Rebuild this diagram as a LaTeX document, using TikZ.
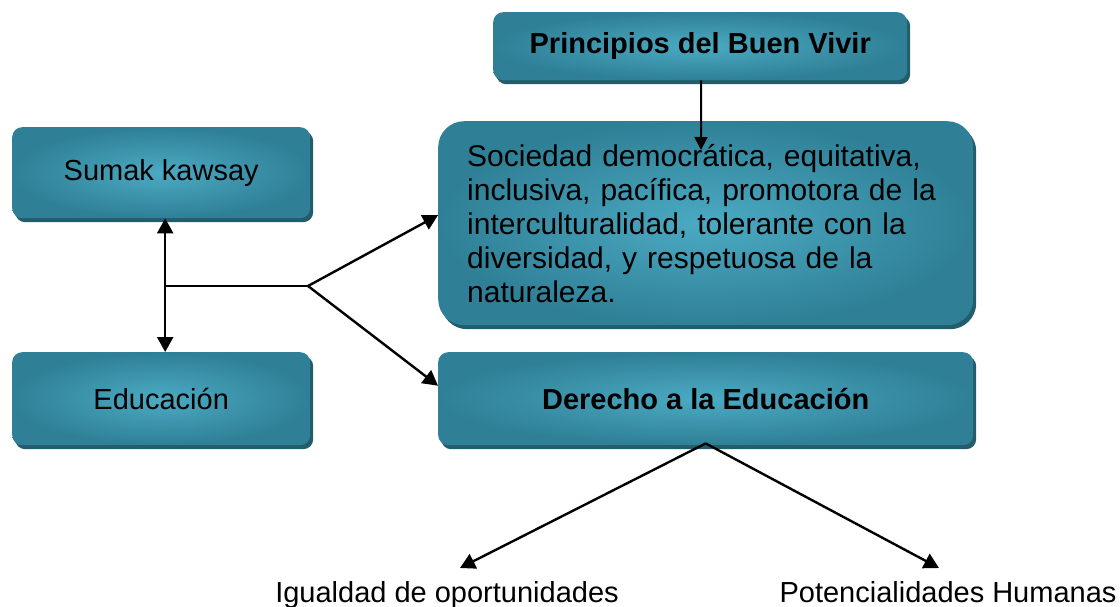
\documentclass[tikz,border=0pt]{standalone}
\usepackage{fontspec}
\setmainfont{Liberation Sans}
\usetikzlibrary{shadows,arrows.meta,calc}
\definecolor{boxin}{HTML}{4BAAC3}
\definecolor{boxout}{HTML}{2F8096}
\definecolor{boxshadow}{HTML}{235C6B}
\tikzset{
  tealbox/.style={shading=radial, inner color=boxin, outer color=boxout,
    rounded corners=10pt, anchor=north west, inner sep=0pt,
    drop shadow={shadow xshift=3pt, shadow yshift=-4pt, opacity=1, fill=boxshadow},
    font=\fontsize{29}{33}\selectfont, text=black},
  conn/.style={line width=2.4pt, draw=black},
  tip/.style={-{Triangle[length=15pt,width=16pt]}},
  lbl/.style={font=\fontsize{29}{33}\selectfont, anchor=base}
}
\begin{document}
\begin{tikzpicture}[x=1pt,y=-1pt]
\useasboundingbox (0,0) rectangle (1120,607);
\node[tealbox, minimum width=414pt, minimum height=68pt] (prin) at (493,12) {\bfseries Principios del Buen Vivir};
\node[tealbox, minimum width=298pt, minimum height=91pt] (sumak) at (12,127) {Sumak kawsay};
\node[tealbox, minimum width=298pt, minimum height=93pt] (edu) at (12,352) {Educación};
\node[tealbox, rounded corners=26pt, text width=477pt, inner xsep=29pt, minimum height=204pt, align=left,
      font=\fontsize{30}{34}\selectfont] (soc) at (438,121)
  {Sociedad democrática, equitativa,\\inclusiva, pacífica, promotora de la\\interculturalidad, tolerante con la\\diversidad, y respetuosa de la\\naturaleza.};
\node[tealbox, minimum width=535pt, minimum height=93pt] (der) at (438,352) {\bfseries Derecho a la Educación};

\node[lbl] (igu) at (447,602) {Igualdad de oportunidades};
\node[lbl] (pot) at (948,602) {Potencialidades Humanas};

\coordinate (pend) at (701,150);
\coordinate (j1) at (165,286);
\coordinate (j2) at (308,286);
\coordinate (t1) at (460,568);
\coordinate (t2) at (939,568);

\draw[line width=2pt, -{Triangle[length=13pt,width=13pt]}] ($(prin.south)+(1,0)$) -- (pend);
\draw[conn, {Triangle[length=15pt,width=16pt]}-{Triangle[length=15pt,width=16pt]}] ($(sumak.south)+(4,0)$) -- ($(edu.north)+(4,0)$);
\draw[line width=2pt] (j1) -- (j2);
\draw[conn, tip] (j2) -- ($(soc.west)+(0,-8)$);
\draw[conn, tip] (j2) -- ($(der.west)+(0,-13)$);
\draw[conn, tip] ($(der.south)+(0,-2)$) -- (t1);
\draw[conn, tip] ($(der.south)+(0,-2)$) -- (t2);
\end{tikzpicture}
\end{document}
